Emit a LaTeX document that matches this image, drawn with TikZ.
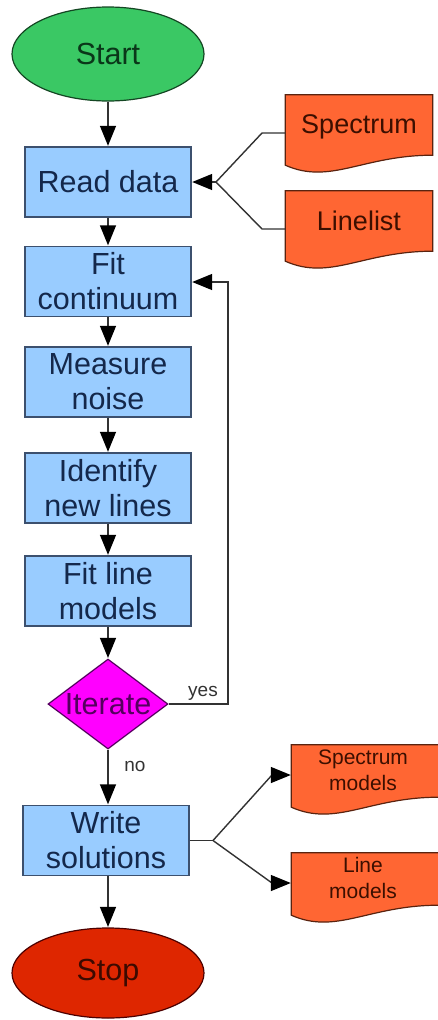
\documentclass[tikz,border=0pt]{standalone}
\usepackage{fontspec}
\setmainfont{Liberation Sans}
\usetikzlibrary{shapes.geometric,arrows.meta}
\definecolor{boxfill}{RGB}{153,204,255}
\definecolor{boxdraw}{RGB}{60,80,110}
\definecolor{boxtext}{RGB}{20,40,75}
\definecolor{startfill}{RGB}{58,200,100}
\definecolor{startdraw}{RGB}{20,70,35}
\definecolor{starttext}{RGB}{10,55,25}
\definecolor{stopfill}{RGB}{222,38,0}
\definecolor{stoptext}{RGB}{60,10,0}
\definecolor{docfill}{RGB}{255,102,51}
\definecolor{docdraw}{RGB}{90,35,15}
\definecolor{doctext}{RGB}{60,15,0}
\definecolor{decfill}{RGB}{255,0,255}
\definecolor{dectext}{RGB}{85,0,95}
\definecolor{linecol}{RGB}{50,50,50}
\tikzset{
  every node/.style={font=\fontsize{30.5}{35}\selectfont, align=center, inner sep=0pt},
  procbox/.style={rectangle, draw=boxdraw, fill=boxfill, line width=1.4pt, text=boxtext,
    minimum width=166pt, minimum height=70pt},
  startell/.style={ellipse, draw=startdraw, fill=startfill, line width=1.2pt, text=starttext,
    minimum width=192pt, minimum height=94pt},
  stopell/.style={ellipse, draw=black!70!red, fill=stopfill, line width=1.2pt, text=stoptext,
    minimum width=192pt, minimum height=90pt},
  decision/.style={diamond, draw=dectext, fill=decfill, line width=1.2pt, text=dectext,
    minimum width=120pt, minimum height=90pt, aspect=1.33},
  docnode/.style={rectangle, text=doctext, minimum width=147pt, minimum height=72pt},
  conn/.style={draw=linecol, line width=1.4pt},
  arr/.style={conn, -{Triangle[length=20pt,width=16pt,fill=black,color=black]}, shorten >=0.5pt},
  lab/.style={font=\fontsize{19}{22}\selectfont, text=linecol}
}
\newcommand{\docpath}[1]{%
  \path[draw=docdraw, fill=docfill, line width=1.2pt]
    (#1.north west) -- (#1.north east) -- ([yshift=12pt]#1.south east)
    .. controls ([xshift=-70pt,yshift=12pt]#1.south east) and ([xshift=45pt,yshift=-18pt]#1.south west)
    .. ([yshift=2pt]#1.south west) -- cycle;}
\begin{document}
\begin{tikzpicture}[x=1pt,y=-1pt]
\path[use as bounding box] (0,0) rectangle (438,1020);
% main flow
\node[startell] (start) at (108,54) {Start};
\node[procbox] (read) at (108,182) {Read data};
\node[procbox] (fitc) at (108,281.5) {Fit\\continuum};
\node[procbox] (noise) at (108,382) {Measure\\noise};
\node[procbox] (ident) at (108,488) {Identify\\new lines};
\node[procbox] (fitl) at (108,591) {Fit line\\models};
\node[decision] (iter) at (108,704) {Iterate};
\node[procbox, minimum width=166pt] (write) at (106,840.5) {Write\\solutions};
\node[stopell] (stop) at (108,973) {Stop};
% documents
\node[docnode] (spec) at (359,131) {};
\node[docnode] (lines) at (359,227) {};
\node[docnode, minimum height=64pt] (smod) at (365,777) {};
\node[docnode, minimum height=64pt] (lmod) at (365,885) {};
\docpath{spec}\docpath{lines}\docpath{smod}\docpath{lmod}
\node[text=doctext, font=\fontsize{27}{32}\selectfont] at (359,127) {Spectrum};
\node[text=doctext, font=\fontsize{27}{32}\selectfont] at (359,221) {Linelist};
\node[text=doctext, font=\fontsize{21}{26}\selectfont] at (363,770) {Spectrum\\models};
\node[text=doctext, font=\fontsize{21}{26}\selectfont] at (363,878) {Line\\models};
% coordinates
\coordinate (injoin) at (216,182);
\coordinate (outjoin) at (213,840.5);
\coordinate (loopb) at (228,704);
\coordinate (loopt) at (228,282);
% connectors
\draw[arr] (start) -- (read);
\draw[arr] (read) -- (fitc);
\draw[arr] (fitc) -- (noise);
\draw[arr] (noise) -- (ident);
\draw[arr] (ident) -- (fitl);
\draw[arr] (fitl) -- (iter);
\draw[arr] (iter.south) -- (iter.south |- write.north);
\draw[arr] (write.south -| stop.north) -- (stop.north);
\draw[conn] (spec.west |- 0,133) -- (262,133) -- (injoin);
\draw[conn] (lines.west |- 0,229) -- (262,229) -- (injoin);
\draw[arr] (injoin) -- (read.east);
\draw[arr] (iter.east) -- (loopb) -- (loopt) -- (fitc.east |- loopt);
\draw[conn] (write.east) -- (outjoin);
\draw[arr] (outjoin) -- (272,775) -- (smod.west |- 0,775);
\draw[arr] (outjoin) -- (272,883) -- (lmod.west |- 0,883);
% labels
\node[lab] at (203,693) {yes};
\node[lab] at (135,766) {no};
\end{tikzpicture}
\end{document}
